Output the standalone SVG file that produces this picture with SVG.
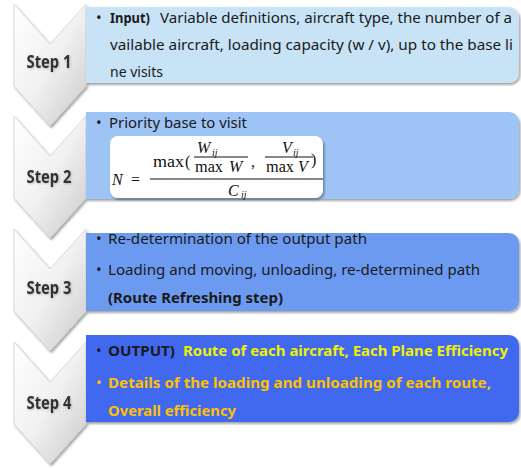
<svg xmlns="http://www.w3.org/2000/svg" width="521" height="468" viewBox="0 0 521 468">
<defs>
<linearGradient id="chev" x1="0" y1="0" x2="1" y2="1">
<stop offset="0" stop-color="#FFFFFF"/>
<stop offset="0.5" stop-color="#F1F1F1"/>
<stop offset="1" stop-color="#C9C9C9"/>
</linearGradient>
<filter id="sh" x="-10%" y="-10%" width="120%" height="130%">
<feDropShadow dx="1.5" dy="2" stdDeviation="1.2" flood-color="#000" flood-opacity="0.35"/>
</filter>
<filter id="ts" x="-10%" y="-20%" width="120%" height="140%">
<feDropShadow dx="0.8" dy="0.8" stdDeviation="0.8" flood-color="#888" flood-opacity="0.6"/>
</filter>
<path id="chv" d="M14,0 L50,40 L86,0 L86,82 L50,122 L14,82 Z"/>
</defs>
<style>
.chev{fill:url(#chev);stroke:#CFCFCF;stroke-width:0.8;filter:url(#sh)}
.step{font-family:"Noto Sans","Liberation Sans",sans-serif;font-weight:bold;font-size:17px;fill:#303030;text-anchor:middle;filter:url(#ts)}
.box{filter:url(#sh)}
.t{font-family:"Noto Sans","Liberation Sans",sans-serif;font-size:15px;fill:#1A1A1A}
.b{font-weight:bold}
.y1{fill:#F0F000}
.y2{fill:#FFC000}
.m{font-family:"Liberation Serif","Times New Roman",serif;font-size:16px;fill:#111}
.mi{font-style:italic}
.sub{font-family:"Liberation Serif",serif;font-style:italic;font-size:10px;fill:#111}
.bar{stroke:#111;stroke-width:1}
</style>

<g id="step1">
<use href="#chv" class="chev" transform="translate(0,4)"/>
<text class="step" x="49" y="68" textLength="45" lengthAdjust="spacingAndGlyphs">Step 1</text>
<path class="box" d="M86,7 H509 A10,10 0 0 1 519,17 V73 A10,10 0 0 1 509,83 H86 Z" fill="#C8E2F6"/>
<text class="t" x="96" y="23">•</text>
<text class="t b" x="110" y="23" textLength="40" lengthAdjust="spacingAndGlyphs">Input)</text>
<text class="t" x="160" y="23" textLength="352" lengthAdjust="spacingAndGlyphs">Variable definitions, aircraft type, the number of a</text>
<text class="t" x="110" y="50" textLength="403" lengthAdjust="spacingAndGlyphs">vailable aircraft, loading capacity (w / v), up to the base li</text>
<text class="t" x="110" y="77" textLength="53" lengthAdjust="spacingAndGlyphs">ne visits</text>
</g>

<g id="step2">
<use href="#chv" class="chev" transform="translate(0,116)"/>
<text class="step" x="49" y="183" textLength="45" lengthAdjust="spacingAndGlyphs">Step 2</text>
<path class="box" d="M86,112 H509 A10,10 0 0 1 519,122 V189 A10,10 0 0 1 509,199 H86 Z" fill="#9DC4F5"/>
<text class="t" x="96" y="128">•</text>
<text class="t" x="109" y="128" textLength="138" lengthAdjust="spacingAndGlyphs">Priority base to visit</text>
<g id="formula">
<rect x="110" y="136" width="213" height="62" rx="8" ry="8" fill="#FFFFFF" filter="url(#sh)"/>
<text class="m mi" x="112" y="185">N</text>
<text class="m" x="131" y="185">=</text>
<line class="bar" x1="150" y1="179" x2="323" y2="179"/>
<text class="m" x="153" y="167" textLength="31" lengthAdjust="spacingAndGlyphs">max</text>
<text class="m" x="185" y="167" font-size="18">(</text>
<text class="m mi" x="197" y="153">W</text>
<text class="sub" x="212" y="156">ij</text>
<line class="bar" x1="194" y1="157" x2="248" y2="157"/>
<text class="m" x="195" y="172" textLength="28" lengthAdjust="spacingAndGlyphs">max</text>
<text class="m mi" x="229" y="172">W</text>
<text class="m" x="251" y="167">,</text>
<text class="m mi" x="282" y="153">V</text>
<text class="sub" x="293" y="156">ij</text>
<line class="bar" x1="265" y1="157" x2="313" y2="157"/>
<text class="m" x="266" y="172" textLength="28" lengthAdjust="spacingAndGlyphs">max</text>
<text class="m mi" x="298" y="172">V</text>
<text class="m" x="311" y="165" font-size="18">)</text>
<text class="m mi" x="228" y="196">C</text>
<text class="sub" x="241" y="198">ij</text>
</g>
</g>

<g id="step3">
<use href="#chv" class="chev" transform="translate(0,229)"/>
<text class="step" x="49" y="294" textLength="45" lengthAdjust="spacingAndGlyphs">Step 3</text>
<path class="box" d="M86,233 H509 A10,10 0 0 1 519,243 V301 A10,10 0 0 1 509,311 H86 Z" fill="#6C9AF1"/>
<text class="t" x="96" y="244">•</text>
<text class="t" x="108" y="244" textLength="259" lengthAdjust="spacingAndGlyphs">Re-determination  of the output path</text>
<text class="t" x="96" y="275">•</text>
<text class="t" x="108" y="275" textLength="372" lengthAdjust="spacingAndGlyphs">Loading and moving, unloading, re-determined  path</text>
<text class="t b" x="108" y="303" textLength="175" lengthAdjust="spacingAndGlyphs">(Route Refreshing step)</text>
</g>

<g id="step4">
<use href="#chv" class="chev" transform="translate(0,342)"/>
<text class="step" x="49" y="409" textLength="45" lengthAdjust="spacingAndGlyphs">Step 4</text>
<path class="box" d="M86,335 H509 A10,10 0 0 1 519,345 V412 A10,10 0 0 1 509,422 H86 Z" fill="#4169EF"/>
<text class="t" x="96" y="356">•</text>
<text class="t b" x="108" y="356" textLength="67" lengthAdjust="spacingAndGlyphs">OUTPUT)</text>
<text class="t b y1" x="183" y="356" textLength="325" lengthAdjust="spacingAndGlyphs">Route of each aircraft, Each Plane Efficiency</text>
<text class="t y2" x="96" y="388">•</text>
<text class="t b y2" x="108" y="388" textLength="383" lengthAdjust="spacingAndGlyphs">Details of the loading and unloading of each route,</text>
<text class="t b y2" x="108" y="416" textLength="128" lengthAdjust="spacingAndGlyphs">Overall efficiency</text>
</g>

<g id="connectors"></g>
</svg>
